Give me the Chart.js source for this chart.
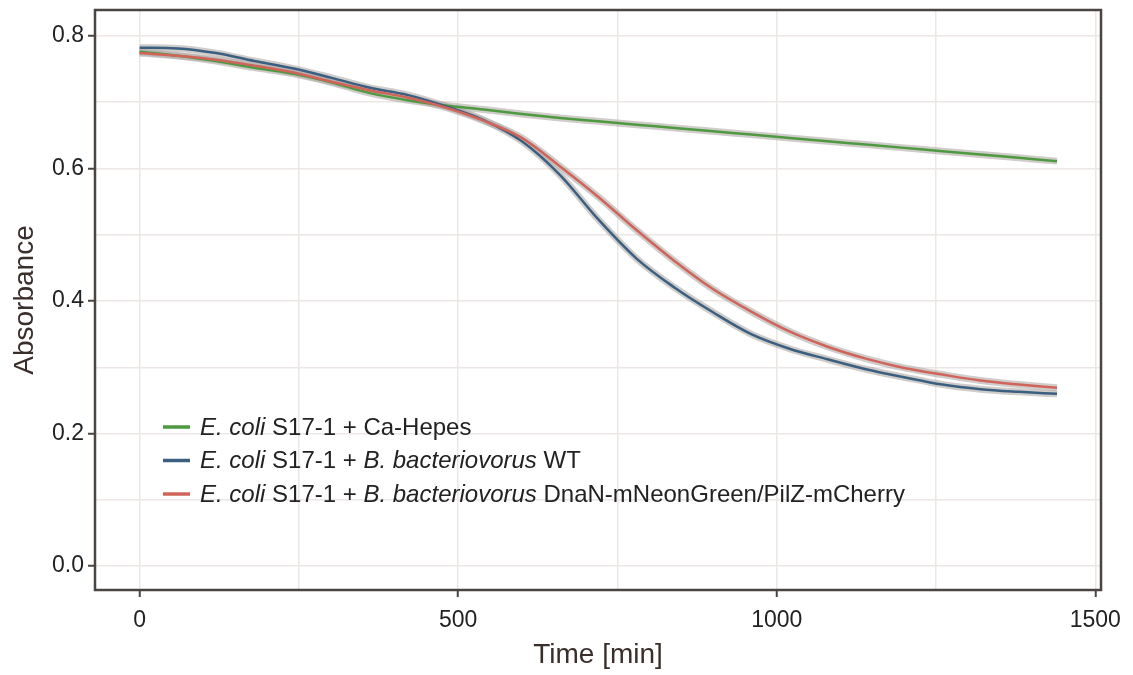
<!DOCTYPE html>
<html>
<head>
<meta charset="utf-8">
<script src="https://cdn.jsdelivr.net/npm/chart.js@4"></script>
<style>
  html, body { margin: 0; padding: 0; background: #fff; }
  #wrap { width: 1133px; height: 675px; }
</style>
</head>
<body>
<div id="wrap"><canvas id="chart" width="1133" height="675"></canvas></div>
<script>
'use strict'

// time in minutes
let timeMin = [0, 60, 120, 180, 240, 300, 360, 420, 480, 540, 600, 660, 720,
  780, 840, 900, 960, 1020, 1080, 1140, 1200, 1260, 1320, 1380, 1440];

let caHepes = [0.776, 0.770, 0.762, 0.752, 0.743, 0.730, 0.714, 0.703, 0.695, 0.689, 0.682, 0.676, 0.671,
  0.666, 0.661, 0.656, 0.651, 0.646, 0.641, 0.636, 0.631, 0.626, 0.621, 0.616, 0.611];

let bdWT = [0.782, 0.781, 0.774, 0.762, 0.751, 0.737, 0.722, 0.711, 0.694, 0.673, 0.641, 0.590, 0.523,
  0.464, 0.420, 0.383, 0.350, 0.328, 0.312, 0.297, 0.285, 0.274, 0.267, 0.263, 0.260];

let bdDnaN = [0.774, 0.770, 0.764, 0.755, 0.745, 0.731, 0.718, 0.707, 0.692, 0.672, 0.646, 0.603, 0.557,
  0.507, 0.460, 0.418, 0.384, 0.354, 0.331, 0.313, 0.299, 0.289, 0.280, 0.274, 0.269];

let xTicks = [0, 250, 500, 750, 1000, 1250, 1500];
let xLabels = [0, 500, 1000, 1500];
let yTicks = [0, 0.1, 0.2, 0.3, 0.4, 0.5, 0.6, 0.7, 0.8];
let yLabels = [0, 0.2, 0.4, 0.6, 0.8];

// legend text split into [text, italic] parts
let legendParts = [
  [['E. coli', true], [' S17-1 + Ca-Hepes', false]],
  [['E. coli', true], [' S17-1 + ', false], ['B. bacteriovorus', true], [' WT', false]],
  [['E. coli', true], [' S17-1 + ', false], ['B. bacteriovorus', true], [' DnaN-mNeonGreen/PilZ-mCherry', false]]
];

let seriesColors = ['#4e9a40', '#3b5f80', '#d0645a'];
let seriesData = [caHepes, bdWT, bdDnaN];

const FONT = "'Liberation Sans', Arial, sans-serif";
const FRAME = '#4a4542';
const GRID = '#ece7e5';

function toPoints(arr) {
  return timeMin.map((t, i) => ({ x: t, y: arr[i] }));
}

let datasets = [];
// grey band under each curve
for (let i = 0; i < seriesData.length; i++) {
  datasets.push({
    data: toPoints(seriesData[i]),
    borderColor: 'rgba(175,170,166,0.6)',
    borderWidth: 7,
    pointRadius: 0,
    cubicInterpolationMode: 'monotone',
    order: 10
  });
}
for (let i = 0; i < seriesData.length; i++) {
  datasets.push({
    data: toPoints(seriesData[i]),
    borderColor: seriesColors[i],
    borderWidth: 2.5,
    pointRadius: 0,
    cubicInterpolationMode: 'monotone',
    order: 3 - i
  });
}

let framePlugin = {
  id: 'frame',
  afterDraw(chart) {
    let ctx = chart.ctx;
    let a = chart.chartArea;
    ctx.save();
    ctx.strokeStyle = FRAME;
    ctx.lineWidth = 2.5;
    ctx.strokeRect(a.left, a.top, a.right - a.left, a.bottom - a.top);

    // legend inside the plot
    let x0 = a.left + 68;
    let y0 = a.top + 417;
    ctx.textBaseline = 'middle';
    for (let i = 0; i < legendParts.length; i++) {
      let y = y0 + i * 33.5;
      ctx.strokeStyle = seriesColors[i];
      ctx.lineWidth = 3.5;
      ctx.beginPath();
      ctx.moveTo(x0, y);
      ctx.lineTo(x0 + 27, y);
      ctx.stroke();
      let tx = x0 + 37;
      ctx.fillStyle = '#222';
      for (let p of legendParts[i]) {
        ctx.font = (p[1] ? 'italic ' : '') + '24px ' + FONT;
        ctx.fillText(p[0], tx, y + 1);
        tx += ctx.measureText(p[0]).width;
      }
    }
    ctx.restore();
  }
};

new Chart(document.getElementById('chart'), {
  type: 'line',
  data: { datasets: datasets },
  plugins: [framePlugin],
  options: {
    responsive: false,
    animation: false,
    layout: { padding: { top: 10, right: 32, left: 0, bottom: 0 } },
    plugins: { legend: { display: false }, tooltip: { enabled: false } },
    scales: {
      x: {
        type: 'linear',
        min: -70,
        max: 1509,
        afterFit(scale) {
          scale.height = 85;
          scale.paddingLeft = 0;
          scale.paddingRight = 0;
        },
        afterBuildTicks(scale) { scale.ticks = xTicks.map(v => ({ value: v })); },
        ticks: {
          autoSkip: false,
          maxRotation: 0,
          padding: 10,
          color: '#222',
          font: { family: FONT, size: 23 },
          callback: v => xLabels.includes(v) ? String(v) : ''
        },
        grid: {
          color: GRID,
          lineWidth: 1.5,
          tickLength: 7,
          tickWidth: 2,
          tickColor: ctx => (ctx.tick && xLabels.includes(ctx.tick.value)) ? FRAME : 'rgba(0,0,0,0)'
        },
        border: { display: false },
        title: {
          display: true,
          text: 'Time [min]',
          color: '#3a2e2b',
          font: { family: FONT, size: 28 },
          padding: { top: 0, bottom: 3 }
        }
      },
      y: {
        type: 'linear',
        min: -0.036,
        max: 0.839,
        afterFit(scale) {
          scale.width = 95;
          scale.paddingTop = 0;
          scale.paddingBottom = 0;
        },
        afterBuildTicks(scale) { scale.ticks = yTicks.map(v => ({ value: v })); },
        ticks: {
          autoSkip: false,
          padding: 4,
          color: '#222',
          font: { family: FONT, size: 23 },
          callback: v => yLabels.some(l => Math.abs(l - v) < 1e-6) ? v.toFixed(1) : ''
        },
        grid: {
          color: GRID,
          lineWidth: 1.5,
          tickLength: 7,
          tickWidth: 2,
          tickColor: ctx => (ctx.tick && yLabels.some(l => Math.abs(l - ctx.tick.value) < 1e-6)) ? FRAME : 'rgba(0,0,0,0)'
        },
        border: { display: false },
        title: {
          display: true,
          text: 'Absorbance',
          color: '#3a2e2b',
          font: { family: FONT, size: 28 },
          padding: { top: 8, bottom: 0 }
        }
      }
    }
  }
});
</script>
</body>
</html>
